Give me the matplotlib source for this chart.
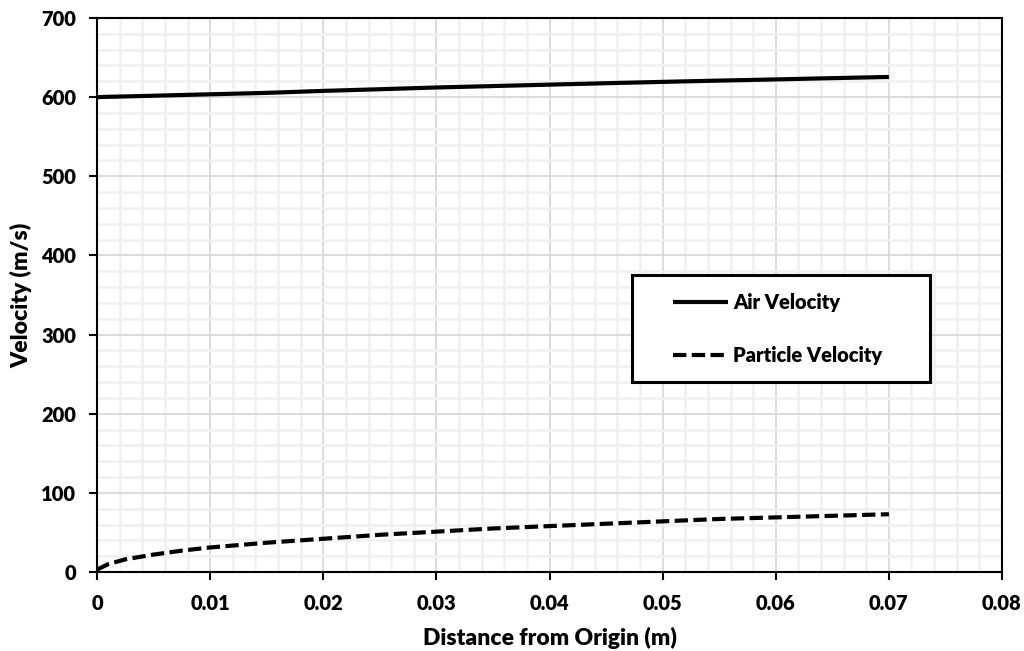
import matplotlib
matplotlib.use("Agg")
import matplotlib.pyplot as plt
from matplotlib.ticker import MultipleLocator, FuncFormatter
from matplotlib.patches import Rectangle

plt.rcParams['font.family'] = ['Lato', 'DejaVu Sans']

# Distance along the nozzle (m)
distance = [0.0, 0.001, 0.0025, 0.005, 0.0075, 0.01, 0.015, 0.02, 0.025, 0.03,
            0.035, 0.04, 0.045, 0.05, 0.055, 0.06, 0.065, 0.07]
# Air velocity (m/s)
air_velocity = [600, 600.4, 600.9, 601.8, 602.7, 603.6, 605.4, 607.9, 610.0, 612.2,
                614.0, 615.8, 617.6, 619.3, 620.9, 622.4, 624.0, 625.5]
# Particle velocity (m/s)
particle_velocity = [3, 10, 16, 22, 27, 31, 37, 42, 47, 51,
                     55, 58, 61, 64, 67, 69, 71, 73]

W, H = 1024, 651
fig = plt.figure(figsize=(W / 100, H / 100), dpi=100)
left, right, top, bottom = 97, 1002, 18, 572
ax = fig.add_axes([left / W, 1 - bottom / H, (right - left) / W, (bottom - top) / H])

ax.plot(distance, air_velocity, color='black', lw=3.0, solid_capstyle='butt',
        label='Air Velocity', zorder=3)
ax.plot(distance, particle_velocity, color='black', lw=3.0, ls=(0, (3.2, 1.3)),
        label='Particle Velocity', zorder=3)

ax.set_xlim(0, 0.08)
ax.set_ylim(0, 700)
ax.xaxis.set_major_locator(MultipleLocator(0.01))
ax.xaxis.set_minor_locator(MultipleLocator(0.002))
ax.yaxis.set_major_locator(MultipleLocator(100))
ax.yaxis.set_minor_locator(MultipleLocator(20))
ax.xaxis.set_major_formatter(FuncFormatter(lambda v, p: '0' if abs(v) < 1e-9 else f'{v:.2f}'))
ax.yaxis.set_major_formatter(FuncFormatter(lambda v, p: f'{v:.0f}'))

ax.grid(which='major', color='#d9d9d9', lw=1.3, zorder=1)
ax.grid(which='minor', color='#f0f0f0', lw=1.8, zorder=0)
ax.set_axisbelow(True)

ax.tick_params(which='major', direction='out', length=5.5, width=1.5, color='black',
               labelsize=14.5)
ax.tick_params(axis='x', which='major', pad=10)
ax.tick_params(axis='y', which='major', pad=9.5)
ax.tick_params(which='minor', length=0)
for lab in ax.get_xticklabels() + ax.get_yticklabels():
    lab.set_fontweight('heavy')
for s in ax.spines.values():
    s.set_linewidth(1.5)
    s.set_color('black')

ax.set_xlabel('Distance from Origin (m)', fontsize=16.5, fontweight='heavy')
ax.set_ylabel('Velocity (m/s)', fontsize=16.5, fontweight='heavy')
ax.xaxis.set_label_coords(0.5, -(638 - bottom) / (bottom - top), transform=ax.transAxes)
ax.yaxis.set_label_coords(-(left - 21) / (right - left), 0.5, transform=ax.transAxes)
ax.xaxis.label.set_va('center')
ax.yaxis.label.set_va('center')

# Legend frame
def ax_x(px):
    return (px - left) / (right - left)

def ax_y(py):
    return (bottom - py) / (bottom - top)

ax.add_patch(Rectangle((ax_x(632), ax_y(382)), ax_x(930) - ax_x(632), ax_y(275) - ax_y(382),
                       transform=ax.transAxes, facecolor='white', edgecolor='black',
                       lw=2.2, zorder=5))
leg = ax.legend(loc='upper left', bbox_to_anchor=(ax_x(673), ax_y(293)),
                frameon=False, handlelength=2.75, handletextpad=0.25,
                borderpad=0, labelspacing=1.7, borderaxespad=0,
                prop={'weight': 'heavy', 'size': 14.5})
leg.set_zorder(6)

fig.savefig('out.png', dpi=100, facecolor='white')
